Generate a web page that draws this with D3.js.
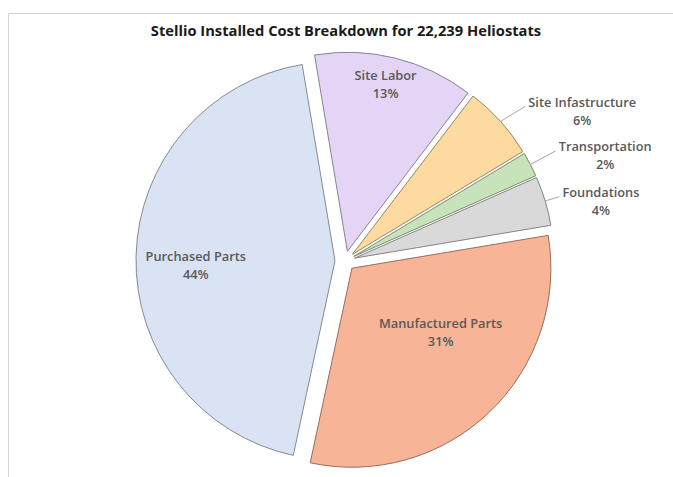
<!DOCTYPE html>
<html>
<head>
<meta charset="utf-8">
<script src="https://cdn.jsdelivr.net/npm/d3@7"></script>
<style>
  body { margin: 0; background: #fff; }
  svg { display: block; }
</style>
</head>
<body>
<svg id="chart" width="673" height="477"></svg>
<script>
// data
var categories = ["Site Labor", "Site Infastructure", "Transportation", "Foundations", "Manufactured Parts", "Purchased Parts"];
var percents = [13, 6, 2, 4, 31, 44];
var sliceColors = ["#e4d5f7", "#fdda9f", "#c8e3b9", "#d9d9d9", "#f7b496", "#dae3f3"];
var chartTitle = "Stellio Installed Cost Breakdown for 22,239 Heliostats";

// label placement: inside/outside, radius fraction, angle shift (deg) from slice middle
var labelPlace = {
  "Site Labor":         { out: false, frac: 0.86, shift: -1 },
  "Site Infastructure": { out: true,  frac: 1.36, shift: 10 },
  "Transportation":     { out: true,  frac: 1.36, shift: 5.7 },
  "Foundations":        { out: true,  frac: 1.27, shift: 3.8 },
  "Manufactured Parts": { out: false, frac: 0.55, shift: -10.5 },
  "Purchased Parts":    { out: false, frac: 0.70, shift: -3.4 }
};

var svg = d3.select("#chart");
var W = 673, H = 477;
var cx = 345, cy = 261, R = 199, explode = 10;
var rad = Math.PI / 180;
var fontFam = "'Open Sans', Lato, sans-serif";

// chart area border (only top and left visible)
svg.append("path")
  .attr("d", "M8.5," + H + "V13.5H" + W)
  .attr("fill", "none")
  .attr("stroke", "#d4d4d4")
  .attr("stroke-width", 1);

svg.append("text")
  .attr("x", 346)
  .attr("y", 36)
  .attr("text-anchor", "middle")
  .attr("font-family", fontFam)
  .attr("font-weight", "bold")
  .attr("font-size", "14.7px")
  .attr("fill", "#1a1a1a")
  .text(chartTitle);

var rows = categories.map(function (c, i) {
  return { name: c, value: percents[i], color: sliceColors[i] };
});

var pie = d3.pie()
  .sort(null)
  .value(function (d) { return d.value; })
  .startAngle(-9.5 * rad)
  .endAngle(350.5 * rad);

var arcs = pie(rows);
var arc = d3.arc().innerRadius(0).outerRadius(R);

function dir(a) { return [Math.sin(a), -Math.cos(a)]; }

var g = svg.append("g").attr("transform", "translate(" + cx + "," + cy + ")");

var slices = g.selectAll("g.slice")
  .data(arcs)
  .enter()
  .append("g")
  .attr("class", "slice")
  .attr("transform", function (d) {
    var m = (d.startAngle + d.endAngle) / 2, v = dir(m);
    return "translate(" + (v[0] * explode) + "," + (v[1] * explode) + ")";
  });

slices.append("path")
  .attr("d", arc)
  .attr("fill", function (d) { return d.data.color; })
  .attr("stroke", function (d) { return d3.color(d.data.color).darker(1.4); })
  .attr("stroke-width", 1);

slices.each(function (d) {
  var s = d3.select(this);
  var p = labelPlace[d.data.name];
  var m = (d.startAngle + d.endAngle) / 2;
  var v = dir(m + p.shift * rad);
  var lx = v[0] * R * p.frac, ly = v[1] * R * p.frac;

  var t = s.append("text")
    .attr("text-anchor", "middle")
    .attr("font-family", fontFam)
    .attr("font-weight", "600")
    .attr("font-size", "12.8px")
    .attr("fill", "#595959");
  t.append("tspan").attr("x", lx).attr("y", ly - 9).attr("dy", "0.35em").text(d.data.name);
  t.append("tspan").attr("x", lx).attr("y", ly + 9).attr("dy", "0.35em").text(Math.round(d.data.value) + "%");

  if (p.out) {
    var bb = t.node().getBBox();
    var e = dir(m);
    s.insert("line", "text")
      .attr("x1", e[0] * R)
      .attr("y1", e[1] * R)
      .attr("x2", bb.x - 3)
      .attr("y2", ly - 5)
      .attr("stroke", "#a6a6a6")
      .attr("stroke-width", 1);
  }
});
</script>
</body>
</html>
